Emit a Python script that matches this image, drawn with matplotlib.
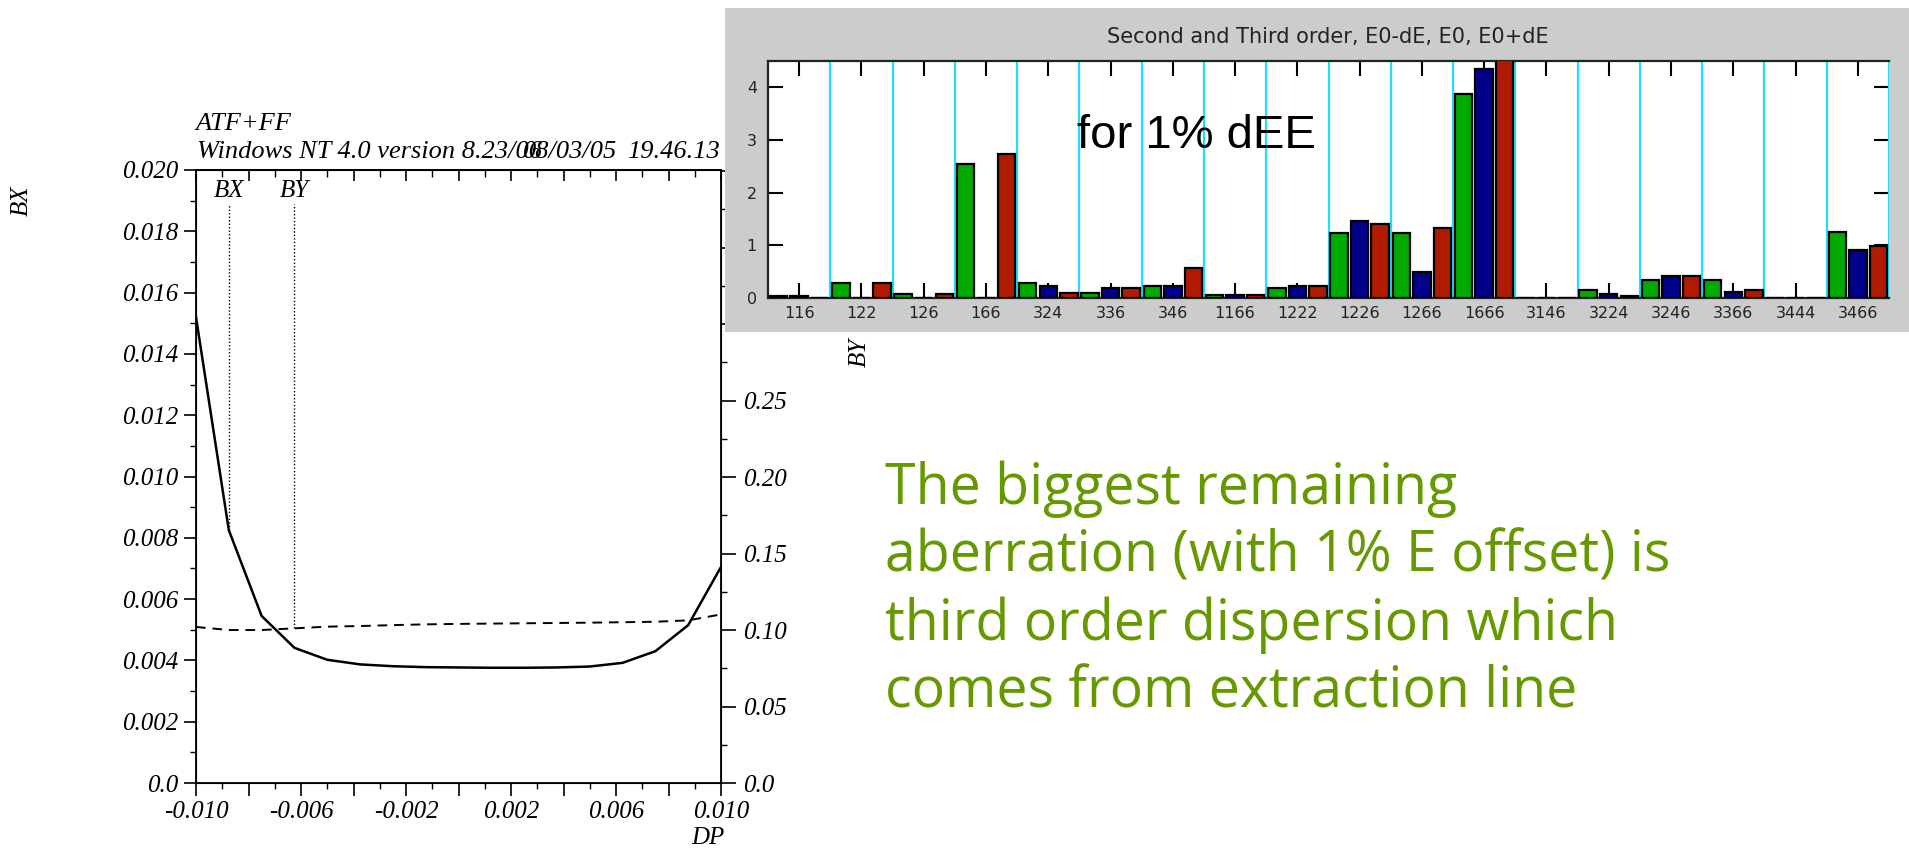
import matplotlib
matplotlib.use("Agg")
import matplotlib.pyplot as plt
import numpy as np
from matplotlib.patches import Rectangle

W, H = 1909, 849

# left chart: chromaticity scan vs DP
dp = [-0.010, -0.00875, -0.0075, -0.00625, -0.005, -0.00375, -0.0025, -0.00125, 0.0,
      0.00125, 0.0025, 0.00375, 0.005, 0.00625, 0.0075, 0.00875, 0.010]
bx = [0.0152, 0.00825, 0.00545, 0.00441, 0.00402, 0.00387, 0.00381, 0.00378, 0.00377,
      0.00376, 0.00376, 0.00377, 0.00380, 0.00392, 0.00430, 0.00515, 0.00705]
by = [0.1020, 0.1000, 0.1000, 0.1011, 0.1022, 0.1026, 0.1032, 0.1037, 0.1040,
      0.1042, 0.1044, 0.1046, 0.1048, 0.1051, 0.1054, 0.1063, 0.1102]
left_ticks = [0.0, 0.002, 0.004, 0.006, 0.008, 0.010, 0.012, 0.014, 0.016, 0.018, 0.020]
left_tick_labels = ['0.0', '0.002', '0.004', '0.006', '0.008', '0.010', '0.012', '0.014',
                    '0.016', '0.018', '0.020']
# labels above 0.25 sit behind the bar panel in the original
right_ticks = [0.0, 0.05, 0.10, 0.15, 0.20, 0.25, 0.30, 0.35, 0.40]
right_tick_labels = ['0.0', '0.05', '0.10', '0.15', '0.20', '0.25', '', '', '']
dp_ticks = [-0.010, -0.008, -0.006, -0.004, -0.002, 0.0, 0.002, 0.004, 0.006, 0.008, 0.010]
dp_tick_labels = ['-0.010', '', '-0.006', '', '-0.002', '', '0.002', '', '0.006', '', '0.010']

# bar chart: aberration terms
terms = ['116', '122', '126', '166', '324', '336', '346', '1166', '1222', '1226', '1266',
         '1666', '3146', '3224', '3246', '3366', '3444', '3466']
e_minus = [0.03, 0.29, 0.07, 2.54, 0.29, 0.10, 0.22, 0.06, 0.19, 1.24, 1.24, 3.88,
           0.0, 0.16, 0.35, 0.35, 0.0, 1.25]
e_zero = [0.03, 0.0, 0.0, 0.0, 0.22, 0.19, 0.22, 0.06, 0.22, 1.47, 0.49, 4.35,
          0.0, 0.08, 0.42, 0.11, 0.0, 0.91]
e_plus = [0.0, 0.29, 0.07, 2.73, 0.10, 0.19, 0.57, 0.06, 0.22, 1.40, 1.33, 4.6,
          0.0, 0.03, 0.42, 0.15, 0.0, 0.99]

serif = {'family': 'Liberation Serif', 'style': 'italic'}

fig = plt.figure(figsize=(W / 100, H / 100), dpi=100)

def fx(px):
    return px / W

def fy(py):
    return 1 - py / H

# ---- left chart
ax = fig.add_axes([fx(196), fy(783), fx(721 - 196), (783 - 170) / H])
ax.set_zorder(0)
ax.plot(dp, bx, color='black', lw=1.8)
ax.set_xlim(-0.010, 0.010)
ax.set_ylim(0, 0.020)
ax.set_yticks(left_ticks)
ax.set_yticklabels(left_tick_labels, fontdict=serif, fontsize=18)
ax.set_yticks(np.arange(0.001, 0.020, 0.002), minor=True)
ax.set_xticks(dp_ticks)
ax.set_xticklabels(dp_tick_labels, fontdict=serif, fontsize=18)
ax.set_xticks(np.arange(-0.009, 0.010, 0.002), minor=True)
ax.tick_params(which='major', length=9, width=1.2, direction='out', pad=4)
ax.tick_params(which='minor', length=4, width=1.0, direction='out')
for s in ['left', 'bottom', 'right', 'top']:
    ax.spines[s].set_linewidth(1.3)

top = ax.secondary_xaxis('top')
top.set_xticks(dp_ticks)
top.set_xticks(np.arange(-0.009, 0.010, 0.002), minor=True)
top.tick_params(which='major', direction='in', length=8, width=1.2, labeltop=False)
top.tick_params(which='minor', direction='in', length=5, width=1.0)
top.spines['top'].set_linewidth(1.3)

ax2 = ax.twinx()
ax2.set_zorder(0.5)
ax2.plot(dp, by, color='black', lw=1.4, ls=(0, (5, 3.5)))
ax2.set_ylim(0, 0.4007)
ax2.set_yticks(right_ticks)
ax2.set_yticklabels(right_tick_labels, fontdict=serif, fontsize=18)
ax2.set_yticks(np.arange(0.025, 0.40, 0.05), minor=True)
ax2.tick_params(which='major', length=11, width=1.2, direction='out', pad=5)
ax2.tick_params(which='minor', length=4, width=1.0, direction='out')

# markers for BX / BY
marker_top = 0.0189
ax.vlines(dp[1], bx[1], marker_top, color='black', lw=1.0, ls=(0, (1, 1.5)))
ax2.vlines(dp[3], by[3], marker_top * 0.4007 / 0.020, color='black', lw=1.0, ls=(0, (1, 1.5)))
ax.text(dp[1], 0.0193, 'BX', fontdict=serif, fontsize=18, ha='center', va='center')
ax.text(dp[3], 0.0193, 'BY', fontdict=serif, fontsize=18, ha='center', va='center')

fig.text(fx(195), fy(124), 'ATF+FF', fontdict=serif, fontsize=19, ha='left', va='center')
fig.text(fx(197), fy(152), 'Windows NT 4.0 version 8.23/06', fontdict=serif, fontsize=19,
         ha='left', va='center')
fig.text(fx(617), fy(152), '08/03/05', fontdict=serif, fontsize=19, ha='right', va='center')
fig.text(fx(720), fy(152), '19.46.13', fontdict=serif, fontsize=19, ha='right', va='center')
fig.text(fx(22), fy(201), 'BX', fontdict=serif, fontsize=18, rotation=90, ha='center', va='center')
fig.text(fx(860), fy(352), 'BY', fontdict=serif, fontsize=18, rotation=90, ha='center',
         va='center', zorder=1.5)
fig.text(fx(708), fy(838), 'DP', fontdict=serif, fontsize=18, ha='center', va='center')

# ---- bar chart panel
fig.patches.append(Rectangle((fx(725), fy(332)), fx(1909 - 725), (332 - 8) / H,
                             transform=fig.transFigure, facecolor='#cccccc',
                             edgecolor='none', zorder=2))
fig.text(fx(1328), fy(37), 'Second and Third order, E0-dE, E0, E0+dE', fontsize=15,
         family='DejaVu Sans', color='#222222', ha='center', va='center', zorder=4)

bax = fig.add_axes([fx(768), fy(298), fx(1889 - 768), (298 - 61) / H])
bax.set_zorder(3)
x = np.arange(len(terms))
bw = 0.28
for off, vals, col in [(-0.33, e_minus, '#00aa00'), (0.0, e_zero, '#00008b'),
                       (0.33, e_plus, '#b01a00')]:
    bax.bar(x + off, vals, width=bw, color=col, edgecolor='black', linewidth=1.6, zorder=3)
for b in np.arange(0.5, len(terms), 1.0):
    bax.axvline(b, color='#22ddff', lw=1.6, zorder=2)
bax.set_xlim(-0.5, len(terms) - 0.5)
bax.set_ylim(0, 4.5)
bax.set_xticks(x)
bax.set_xticklabels(terms, family='DejaVu Sans', fontsize=11.5, color='#222222')
bax.set_yticks([0, 1, 2, 3, 4])
bax.set_yticklabels(['0', '1', '2', '3', '4'], family='DejaVu Sans', fontsize=11.5,
                    color='#222222')
bax.tick_params(axis='x', direction='in', length=11, width=1.5, top=True, pad=6)
bax.tick_params(axis='y', direction='in', length=11, width=1.5, right=True, pad=8)
bax.spines['right'].set_visible(False)
for s in ['left', 'top', 'bottom']:
    bax.spines[s].set_linewidth(1.6)
    bax.spines[s].set_color('#222222')

fig.text(fx(1077), fy(136), 'for 1% dEE', family='Liberation Sans', fontsize=34,
         ha='left', va='center', zorder=5)

# ---- green comment
comment = ['The biggest remaining', 'aberration (with 1% E offset) is',
           'third order dispersion which', 'comes from extraction line']
for i, line in enumerate(comment):
    fig.text(fx(885), fy(489 + 68 * i), line, family='Open Sans', fontsize=40,
             color='#669900', ha='left', va='center')

fig.savefig('out.png', dpi=100)
